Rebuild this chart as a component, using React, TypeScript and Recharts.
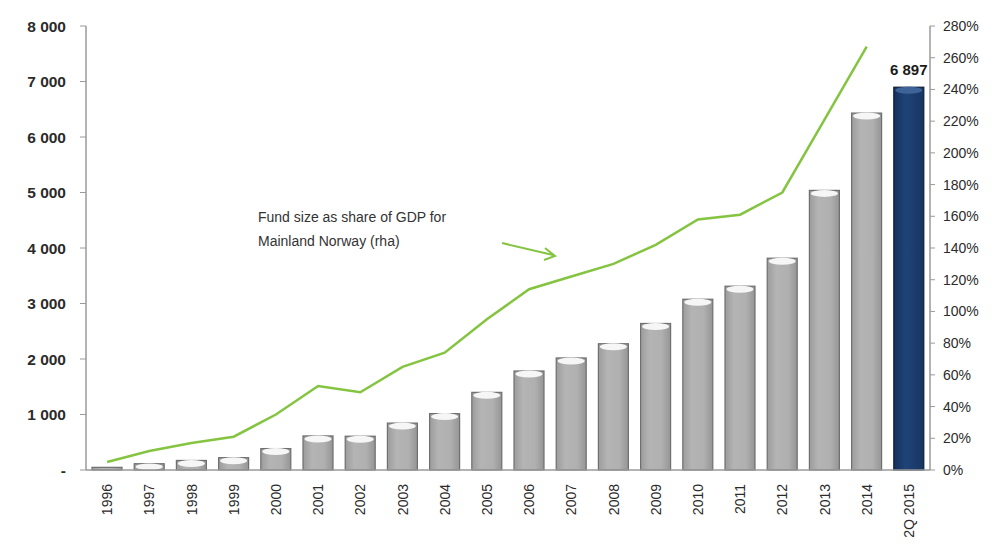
import React from "react";
import {
  ComposedChart,
  Bar,
  Line,
  XAxis,
  YAxis,
  Cell,
  LabelList,
} from "recharts";

const categories = [
  "1996", "1997", "1998", "1999", "2000", "2001", "2002", "2003", "2004", "2005",
  "2006", "2007", "2008", "2009", "2010", "2011", "2012", "2013", "2014", "2Q 2015",
];

// fund size, bn NOK (left axis)
const fundSize = [
  48, 113, 172, 222, 386, 614, 609, 845, 1016, 1399,
  1784, 2019, 2275, 2640, 3077, 3312, 3816, 5038, 6431, 6897,
];

// fund size as share of mainland GDP, % (right axis)
const gdpShare: (number | null)[] = [
  5, 12, 17, 21, 35, 53, 49, 65, 74, 95,
  114, 122, 130, 142, 158, 161, 175, 221, 267, null,
];

const leftTicks = [0, 1000, 2000, 3000, 4000, 5000, 6000, 7000, 8000];
const rightTicks = [0, 20, 40, 60, 80, 100, 120, 140, 160, 180, 200, 220, 240, 260, 280];

const data = categories.map((c, i) => ({
  year: c,
  fund: fundSize[i],
  share: gdpShare[i],
}));

const FONT = "'Liberation Sans', Arial, sans-serif";
const TEXT = "#2b2b2b";
const AXIS = "#9a9a9a";
const GREEN = "#84c441";
const lastIdx = categories.length - 1;

const fmtLeft = (v: number) => (v === 0 ? "-" : `${v / 1000} 000`);

function CylinderBar(props: any) {
  const { x, y, width, height, index } = props;
  if (!height || height <= 0) return null;
  const navy = index === lastIdx;
  const cx = x + width / 2;
  return (
    <g>
      <rect
        x={x}
        y={y}
        width={width}
        height={height}
        fill={navy ? "url(#navyGrad)" : "url(#grayGrad)"}
        stroke={navy ? "#0e1f3a" : "#6f6f6f"}
        strokeWidth={1.2}
      />
      {height > 4 && (
        <ellipse
          cx={cx}
          cy={y + 3}
          rx={width / 2 - 1.5}
          ry={Math.min(3.5, height / 2)}
          fill={navy ? "#3d6398" : "#f6f6f6"}
        />
      )}
    </g>
  );
}

function LastLabel(props: any) {
  const { x, y, width, index, value } = props;
  if (index !== lastIdx) return null;
  return (
    <text
      x={x + width / 2}
      y={y - 12}
      textAnchor="middle"
      fontFamily={FONT}
      fontWeight="bold"
      fontSize={15}
      fill="#1a1a1a"
    >
      {`${Math.floor(value / 1000)} ${String(value % 1000).padStart(3, "0")}`}
    </text>
  );
}

function XTick(props: any) {
  const { x, y, payload } = props;
  return (
    <text
      transform={`translate(${x + 5},${y + 6}) rotate(-90)`}
      textAnchor="end"
      fontFamily={FONT}
      fontSize={14}
      fill={TEXT}
    >
      {payload.value}
    </text>
  );
}

export default function App() {
  return (
    <div
      style={{
        position: "absolute",
        left: 0,
        top: 0,
        width: 1000,
        height: 553,
        background: "#fff",
      }}
    >
      <ComposedChart
        width={1000}
        height={553}
        data={data}
        margin={{ top: 26, right: 0, left: 0, bottom: 0 }}
      >
        <defs>
          <linearGradient id="grayGrad" x1="0" y1="0" x2="1" y2="0">
            <stop offset="0%" stopColor="#9c9c9c" />
            <stop offset="30%" stopColor="#b4b4b4" />
            <stop offset="70%" stopColor="#b0b0b0" />
            <stop offset="100%" stopColor="#959595" />
          </linearGradient>
          <linearGradient id="navyGrad" x1="0" y1="0" x2="1" y2="0">
            <stop offset="0%" stopColor="#15305a" />
            <stop offset="40%" stopColor="#1f4478" />
            <stop offset="100%" stopColor="#173560" />
          </linearGradient>
        </defs>
        <XAxis
          dataKey="year"
          height={83}
          interval={0}
          tick={<XTick />}
          tickLine={false}
          axisLine={{ stroke: AXIS, strokeWidth: 1.5 }}
        />
        <YAxis
          yAxisId="left"
          width={86}
          domain={[0, 8000]}
          ticks={leftTicks}
          tickFormatter={fmtLeft}
          tick={{ fontFamily: FONT, fontSize: 15.5, fill: TEXT, fontWeight: 600 }}
          tickSize={6}
          tickMargin={14}
          stroke={AXIS}
          axisLine={{ stroke: AXIS, strokeWidth: 1.5 }}
        />
        <YAxis
          yAxisId="right"
          orientation="right"
          width={70}
          domain={[0, 280]}
          ticks={rightTicks}
          tickFormatter={(v: number) => `${v}%`}
          tick={{ fontFamily: FONT, fontSize: 14, fill: TEXT }}
          tickSize={5}
          tickMargin={8}
          stroke={AXIS}
          axisLine={{ stroke: AXIS, strokeWidth: 1.5 }}
        />
        <Bar
          yAxisId="left"
          dataKey="fund"
          barSize={30}
          shape={<CylinderBar />}
          isAnimationActive={false}
        >
          {data.map((d, i) => (
            <Cell key={d.year} fill={i === lastIdx ? "#1f4478" : "#b0b0b0"} />
          ))}
          <LabelList dataKey="fund" content={<LastLabel />} />
        </Bar>
        <Line
          yAxisId="right"
          dataKey="share"
          type="linear"
          stroke={GREEN}
          strokeWidth={2.5}
          dot={false}
          activeDot={false}
          connectNulls={false}
          isAnimationActive={false}
        />
      </ComposedChart>
      <svg
        width={1000}
        height={553}
        style={{ position: "absolute", left: 0, top: 0, pointerEvents: "none" }}
      >
        <text x={258} y={222} fontFamily={FONT} fontSize={14} fill="#333">
          Fund size as share of GDP for
        </text>
        <text x={258} y={246} fontFamily={FONT} fontSize={14} fill="#333">
          Mainland Norway (rha)
        </text>
        <line x1={502} y1={243} x2={553} y2={255} stroke={GREEN} strokeWidth={2} />
        <polyline
          points="545,248 555,256 544,260"
          fill="none"
          stroke={GREEN}
          strokeWidth={2}
        />
      </svg>
    </div>
  );
}
